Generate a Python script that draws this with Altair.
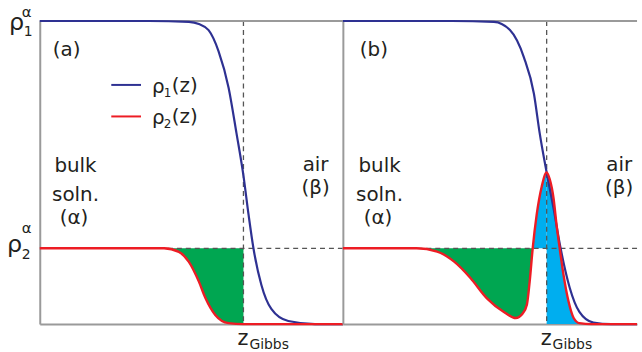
import altair as alt
import pandas as pd

# ---- values ----
RHO2_ALPHA = 0.25      # bulk density of component 2 (relative to rho1^alpha = 1)
Z_GIBBS = 6.72         # Gibbs dividing surface position

# panel (a)
a_blue_z = [0.0, 3.6, 4.92, 5.25, 5.57, 5.9, 6.23, 6.49, 6.72, 6.89, 7.05, 7.31, 7.64, 8.2, 9.08, 10.0]
a_blue = [1.0, 1.0, 0.997, 0.99, 0.97, 0.90, 0.78, 0.63, 0.49, 0.36, 0.25, 0.13, 0.05, 0.01, 0.0, 0.0]
a_red_z = [0.0, 4.1, 4.59, 4.92, 5.25, 5.47, 5.79, 6.23, 6.72, 10.0]
a_red = [0.25, 0.25, 0.238, 0.205, 0.14, 0.085, 0.03, 0.003, 0.0, 0.0]

# panel (b)
b_blue_z = [0.0, 3.6, 4.98, 5.51, 5.97, 6.3, 6.49, 6.72, 6.95, 7.18, 7.48, 7.8, 8.26, 8.85, 9.7]
b_blue = [1.0, 1.0, 0.997, 0.97, 0.88, 0.76, 0.63, 0.50, 0.38, 0.25, 0.12, 0.04, 0.005, 0.0, 0.0]
b_red_z = [0.0, 2.43, 3.11, 3.67, 4.20, 4.75, 5.31, 5.70, 5.93, 6.07, 6.16, 6.26, 6.39, 6.56,
           6.72, 6.82, 6.95, 7.05, 7.15, 7.28, 7.44, 7.61, 7.80, 8.20, 9.7]
b_red = [0.25, 0.25, 0.239, 0.206, 0.153, 0.085, 0.04, 0.02, 0.035, 0.065, 0.14, 0.25, 0.36, 0.455,
         0.50, 0.478, 0.413, 0.324, 0.25, 0.16, 0.075, 0.02, 0.003, 0.0, 0.0]

# ---- styling ----
FONT = "DejaVu Sans"
BLUE = "#2e3192"
RED = "#ed1c24"
GREEN = "#00a651"
CYAN = "#00aeef"
AXIS = "#9a9a9a"
DASH = "#555555"
TEXT = "#231f20"


def build_panel(blue_z, blue, red_z, red, zmax, width, mode):
    ax = alt.Axis(title=None, labels=False, ticks=False, grid=False,
                  domainColor=AXIS, domainWidth=2)
    X = alt.X("z:Q", scale=alt.Scale(domain=[0, zmax], nice=False), axis=ax)
    Y = alt.Y("v:Q", scale=alt.Scale(domain=[0, 1], nice=False), axis=ax)

    def label(z, v, s, size, dx=0, dy=0, align="left", font=FONT):
        d = pd.DataFrame({"z": [z], "v": [v], "t": [s]})
        return alt.Chart(d).mark_text(align=align, baseline="alphabetic", dx=dx, dy=dy,
                                      fontSize=size, font=font, color=TEXT).encode(
            x=X, y=Y, text="t:N")

    def area(df, color):
        return alt.Chart(df).mark_area(interpolate="monotone", color=color, opacity=1).encode(
            x=X, y=Y, y2=alt.Y2("v2:Q"))

    red_df = pd.DataFrame({"z": red_z, "v": red})
    blue_df = pd.DataFrame({"z": blue_z, "v": blue})
    left = red_df[red_df.z <= Z_GIBBS + 1e-9]
    right = red_df[red_df.z >= Z_GIBBS - 1e-9]

    layers = []
    if mode == "a":
        layers.append(area(pd.DataFrame({"z": left.z, "v": left.v, "v2": RHO2_ALPHA}), GREEN))
    else:
        layers.append(area(pd.DataFrame({"z": left.z, "v": left.v.clip(upper=RHO2_ALPHA),
                                         "v2": RHO2_ALPHA}), GREEN))
        layers.append(area(pd.DataFrame({"z": left.z, "v": left.v.clip(lower=RHO2_ALPHA),
                                         "v2": RHO2_ALPHA}), CYAN))
        layers.append(area(pd.DataFrame({"z": right.z, "v": right.v, "v2": 0.0}), CYAN))

    dash = dict(strokeDash=[5, 4], color=DASH, strokeWidth=1.3)
    layers.append(alt.Chart(pd.DataFrame({"v": [RHO2_ALPHA]})).mark_rule(**dash).encode(y=Y))
    layers.append(alt.Chart(pd.DataFrame({"z": [Z_GIBBS]})).mark_rule(**dash).encode(x=X))
    layers.append(alt.Chart(pd.DataFrame({"v": [1.0]})).mark_rule(color=AXIS, strokeWidth=2).encode(y=Y))

    layers.append(alt.Chart(blue_df).mark_line(interpolate="monotone", color=BLUE,
                                                strokeWidth=2.2).encode(x=X, y=Y))
    layers.append(alt.Chart(red_df).mark_line(interpolate="monotone", color=RED,
                                               strokeWidth=2.4).encode(x=X, y=Y))

    # z_Gibbs label
    layers.append(label(Z_GIBBS, 0.0, "z", 21, dx=-6, dy=21))
    layers.append(label(Z_GIBBS, 0.0, "Gibbs", 14, dx=6, dy=25))

    # region labels
    tag = "(a)" if mode == "a" else "(b)"
    tag_z = 0.43 if mode == "a" else 0.56
    layers.append(label(tag_z, 0.907, tag, 20, dy=7))
    bz = 1.18 if mode == "a" else 1.21
    layers.append(label(bz, 0.501, "bulk", 20, align="center"))
    layers.append(label(bz, 0.406, "soln.", 20, align="center"))
    layers.append(label(bz - 0.05, 0.331, "(α)", 20, align="center"))
    az = 9.1 if mode == "a" else 9.11
    layers.append(label(az, 0.504, "air", 20, align="center"))
    layers.append(label(az, 0.428, "(β)", 20, align="center"))

    if mode == "a":
        # rho labels on the left
        layers.append(label(0.0, 1.0, "ρ", 24, dx=-31, dy=9))
        layers.append(label(0.0, 1.0, "1", 14, dx=-16, dy=15))
        layers.append(label(0.0, 1.0, "α", 15, dx=-18, dy=-4))
        layers.append(label(0.0, RHO2_ALPHA, "ρ", 24, dx=-33, dy=4))
        layers.append(label(0.0, RHO2_ALPHA, "2", 14, dx=-18, dy=11))
        layers.append(label(0.0, RHO2_ALPHA, "α", 15, dx=-18, dy=-15))
        # legend
        leg = pd.DataFrame({"z": [2.36, 2.36], "z2": [3.34, 3.34], "v": [0.789, 0.685],
                            "s": ["rho1", "rho2"]})
        layers.append(alt.Chart(leg).mark_rule(strokeWidth=2).encode(
            x=X, x2=alt.X2("z2:Q"), y=Y,
            color=alt.Color("s:N", scale=alt.Scale(domain=["rho1", "rho2"], range=[BLUE, RED]),
                            legend=None)))
        for v, sub in [(0.789, "1"), (0.685, "2")]:
            layers.append(label(3.70, v, "ρ", 20, dy=8))
            layers.append(label(3.70, v, sub, 12, dx=12, dy=12))
            layers.append(label(3.70, v, "(z)", 20, dx=20, dy=7))

    return alt.layer(*layers).properties(width=width, height=305)


pa = build_panel(a_blue_z, a_blue, a_red_z, a_red, 10.0, 305, "a")
pb = build_panel(b_blue_z, b_blue, b_red_z, b_red, 9.7, 296, "b")

chart = alt.hconcat(pa, pb, spacing=0, bounds="flush",
                    padding={"left": 7, "top": 4, "right": 0, "bottom": 0},
                    background="white").configure_view(strokeWidth=0)

chart.save("out.html", embed_options={"renderer": "svg", "actions": False})
